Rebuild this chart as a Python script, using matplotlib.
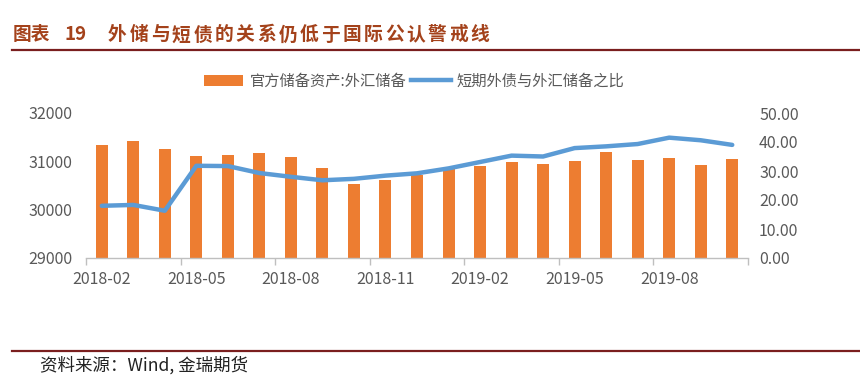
import matplotlib
matplotlib.use("Agg")
import matplotlib.pyplot as plt
from matplotlib.patches import Patch
from matplotlib.lines import Line2D
import numpy as np

plt.rcParams['font.family'] = ['Noto Sans CJK SC', 'DejaVu Sans']

months = ["2018-02", "2018-03", "2018-04", "2018-05", "2018-06", "2018-07", "2018-08",
          "2018-09", "2018-10", "2018-11", "2018-12", "2019-01", "2019-02", "2019-03",
          "2019-04", "2019-05", "2019-06", "2019-07", "2019-08", "2019-09", "2019-10"]
reserves = [31345, 31428, 31249, 31106, 31121, 31179, 31097, 30870, 30531, 30617, 30727,
            30879, 30902, 30988, 30950, 31010, 31192, 31037, 31072, 30924, 31052]
ratio = [18.0, 18.3, 16.3, 31.8, 31.7, 29.3, 28.0, 26.8, 27.3, 28.4, 29.2,
         30.9, 33.1, 35.3, 35.0, 37.9, 38.5, 39.3, 41.5, 40.6, 39.0]
bar_label = "官方储备资产:外汇储备"
line_label = "短期外债与外汇储备之比"
title_head = "图表"
title_num = "19"
title_text = "外储与短债的关系仍低于国际公认警戒线"
source_text = "资料来源：Wind, 金瑞期货"

W, H = 860, 392
fig = plt.figure(figsize=(W / 100, H / 100), dpi=100)
fig.patch.set_facecolor("white")

L, R, T, B = 86, 748, 113, 258
ax = fig.add_axes([L / W, 1 - B / H, (R - L) / W, (B - T) / H])
ax2 = ax.twinx()

x = np.arange(len(months))
bar_c = "#ED7D31"
line_c = "#5B9BD5"
grey = "#595959"

ax.bar(x, reserves, width=0.38, color=bar_c, zorder=2)
ax.set_ylim(29000, 32000)
ax.set_yticks([29000, 30000, 31000, 32000])
ax.set_xlim(-0.5, len(months) - 0.5)

ax2.plot(x, ratio, color=line_c, lw=3.2, solid_capstyle="round", solid_joinstyle="round", zorder=3)
ax2.set_ylim(0, 50)
ax2.set_yticks([0, 10, 20, 30, 40, 50])
ax2.set_yticklabels([f"{v:.2f}" for v in [0, 10, 20, 30, 40, 50]])

for a in (ax, ax2):
    for s in a.spines.values():
        s.set_visible(False)
ax.spines['bottom'].set_visible(True)
ax.spines['bottom'].set_color("#BFBFBF")
ax.spines['bottom'].set_linewidth(1.0)

ax.set_xticks(x[::3])
ax.set_xticklabels([months[i] for i in range(0, len(months), 3)])
ax.set_xticks(np.arange(-0.5, len(months), 3), minor=True)
ax.tick_params(axis='x', which='major', length=0, pad=9, labelsize=11.5, labelcolor=grey)
ax.tick_params(axis='x', which='minor', length=5, color="#BFBFBF", width=1.0)
ax.tick_params(axis='y', length=0, pad=10, labelsize=11.5, labelcolor=grey)
ax2.tick_params(axis='y', length=0, pad=8, labelsize=11.5, labelcolor=grey)

handles = [Patch(facecolor=bar_c, edgecolor='none'),
           Line2D([0], [0], color=line_c, lw=3.2)]
fig.legend(handles, [bar_label, line_label], loc='center', ncol=2,
           bbox_to_anchor=(414 / W, 1 - 81 / H), frameon=False,
           fontsize=11, labelcolor=grey, handlelength=2.6, handletextpad=0.4,
           columnspacing=0.3)

# title
title_c = "#A4421B"
ty = 1 - 35 / H
fig.text(13 / W, ty, title_head, fontsize=13.5, fontweight='bold',
         color=title_c, ha='left', va='center')
fig.text(64 / W, ty, title_num, fontsize=13.5, fontweight='bold',
         color=title_c, ha='left', va='center')
step = 21.3
for i, ch in enumerate(title_text):
    fig.text((108 + step * i) / W, ty, ch, fontsize=13.5, fontweight='bold',
             color=title_c, ha='left', va='center')

rule_c = "#7A1E1E"
fig.add_artist(Line2D([12 / W, 1], [1 - 50 / H, 1 - 50 / H], color=rule_c, lw=1.6,
                      transform=fig.transFigure))
fig.add_artist(Line2D([12 / W, 1], [1 - 351 / H, 1 - 351 / H], color=rule_c, lw=1.6,
                      transform=fig.transFigure))

fig.text(40 / W, 1 - 365 / H, source_text, fontsize=12.6, color="#222222",
         ha='left', va='center')

fig.savefig("out.png", dpi=100, facecolor="white")
